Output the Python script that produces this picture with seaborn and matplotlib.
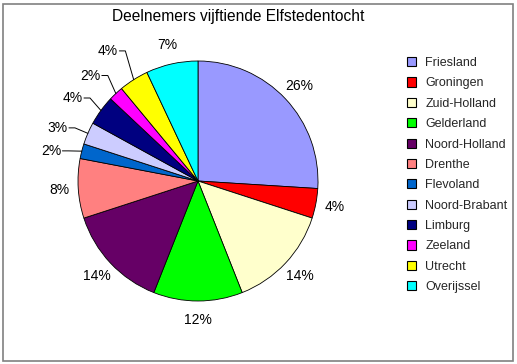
import numpy as np
import matplotlib
matplotlib.use("Agg")
import matplotlib.pyplot as plt
from matplotlib.patches import Patch, Rectangle
import seaborn as sns

# Deelnemers per provincie (percentages)
provinces = ["Friesland", "Groningen", "Zuid-Holland", "Gelderland", "Noord-Holland",
             "Drenthe", "Flevoland", "Noord-Brabant", "Limburg", "Zeeland",
             "Utrecht", "Overijssel"]
shares = [26, 4, 14, 12, 14, 8, 2, 3, 4, 2, 4, 7]
slice_colors = ["#9999FF", "#FF0000", "#FFFFCC", "#00FF00", "#660066", "#FF8080",
                "#0066CC", "#CCCCFF", "#000080", "#FF00FF", "#FFFF00", "#00FFFF"]
title = "Deelnemers vijftiende Elfstedentocht"

sns.set_theme(style="white")
plt.rcParams["font.family"] = ["Liberation Sans", "DejaVu Sans"]

W, H = 517, 364
fig = plt.figure(figsize=(W / 100, H / 100), dpi=100)
fig.patch.set_facecolor("white")

# pie centre ~ (198, 180) px, radius ~ 120 px
R = 120
cx, cy = 198, H - 181
half = 1.4 * R
ax = fig.add_axes([(cx - half) / W, (cy - half) / H, 2 * half / W, 2 * half / H])

palette = sns.color_palette(slice_colors)
wedges, _ = ax.pie(shares, colors=palette, startangle=90, counterclock=False,
                   radius=1.0, wedgeprops=dict(edgecolor="black", linewidth=0.6))
ax.set_xlim(-1.4, 1.4)
ax.set_ylim(-1.4, 1.4)
ax.set_aspect("equal")
ax.axis("off")

for w, v in zip(wedges, shares):
    mid = (w.theta1 + w.theta2) / 2
    a = np.deg2rad(mid)
    leader = v <= 4 and 95 < (mid % 360) < 170
    if leader:
        la = np.deg2rad(mid + 3)
        r = 1.27 if mid % 360 > 125 else 1.33
        tx, ty = r * np.cos(la) + 0.02, r * np.sin(la)
        ax.text(tx, ty, f"{v}%", ha="center", va="center", fontsize=10, color="black")
        x0 = tx + 0.095
        ex, ey = 1.0 * np.cos(a), 1.0 * np.sin(a)
        elbow = min(x0 + 0.05, ex)
        ax.plot([x0, elbow, ex], [ty, ty, ey], color="black", lw=0.7)
    else:
        r = 1.16
        ax.text(r * np.cos(a), r * np.sin(a), f"{v}%", ha="center", va="center",
                fontsize=10, color="black")

fig.text(238 / W, 1 - 17 / H, title, ha="center", va="center", fontsize=11.2, color="black")

handles = [Patch(facecolor=c, edgecolor="black", linewidth=0.8) for c in palette]
fig.legend(handles, provinces, loc="upper left", bbox_to_anchor=(402 / W, 1 - 52 / H),
           frameon=False, fontsize=9, handlelength=0.75, handleheight=0.75,
           handletextpad=0.7, labelspacing=0.67, borderaxespad=0)

fig.patches.append(Rectangle((3 / W, 3 / H), (W - 7) / W, (H - 7) / H,
                             transform=fig.transFigure, fill=False,
                             edgecolor="#808080", linewidth=1.2))

fig.savefig("out.png", dpi=100)
